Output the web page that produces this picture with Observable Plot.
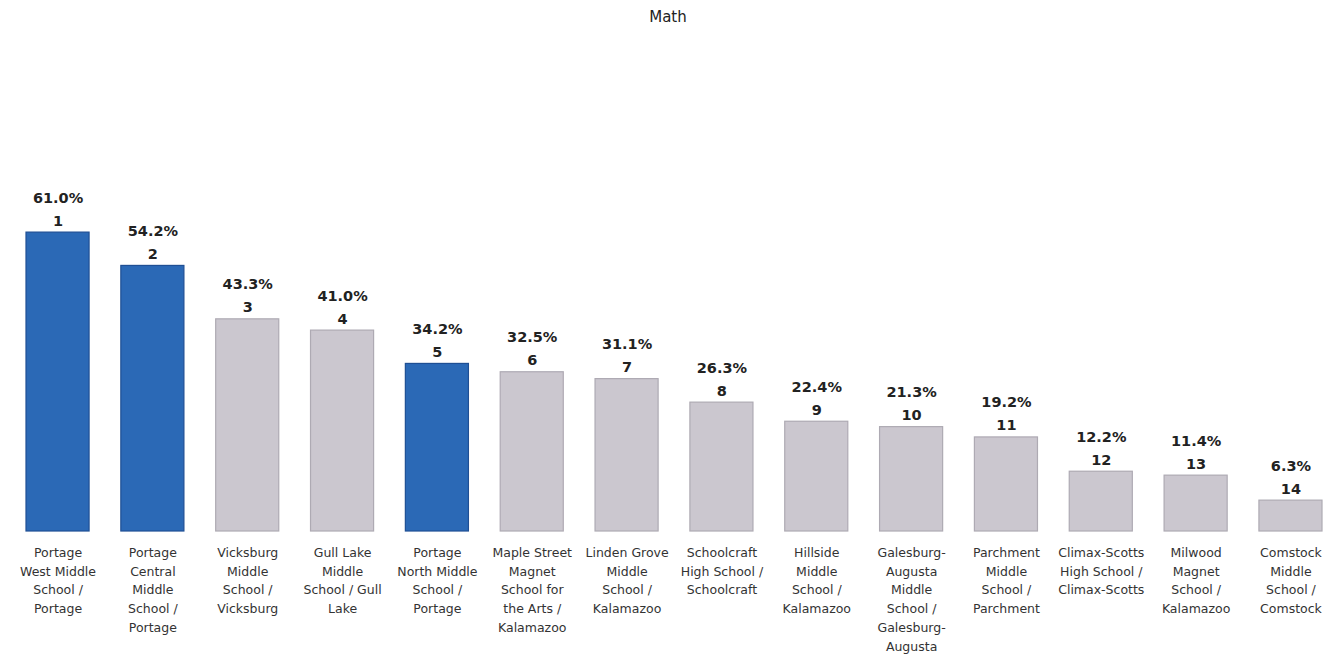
<!DOCTYPE html>
<html>
<head>
<meta charset="utf-8">
<script src="https://cdn.jsdelivr.net/npm/d3@7"></script>
<script src="https://cdn.jsdelivr.net/npm/@observablehq/plot@0.6"></script>
<style>
  html, body { margin: 0; padding: 0; background: #fff; }
  #title { height: 34px; line-height: 34px; text-align: center; font-family: "DejaVu Sans", sans-serif; font-size: 15px; color: #222; }
</style>
</head>
<body>
<div id="title">Math</div>
<div id="chart"></div>
<script>
const schools = [
  "Portage\nWest Middle\nSchool /\nPortage",
  "Portage\nCentral\nMiddle\nSchool /\nPortage",
  "Vicksburg\nMiddle\nSchool /\nVicksburg",
  "Gull Lake\nMiddle\nSchool / Gull\nLake",
  "Portage\nNorth Middle\nSchool /\nPortage",
  "Maple Street\nMagnet\nSchool for\nthe Arts /\nKalamazoo",
  "Linden Grove\nMiddle\nSchool /\nKalamazoo",
  "Schoolcraft\nHigh School /\nSchoolcraft",
  "Hillside\nMiddle\nSchool /\nKalamazoo",
  "Galesburg-\nAugusta\nMiddle\nSchool /\nGalesburg-\nAugusta",
  "Parchment\nMiddle\nSchool /\nParchment",
  "Climax-Scotts\nHigh School /\nClimax-Scotts",
  "Milwood\nMagnet\nSchool /\nKalamazoo",
  "Comstock\nMiddle\nSchool /\nComstock"
];
const values = [61.0, 54.2, 43.3, 41.0, 34.2, 32.5, 31.1, 26.3, 22.4, 21.3, 19.2, 12.2, 11.4, 6.3];
const ranks = [1,2,3,4,5,6,7,8,9,10,11,12,13,14];
const highlighted = [true, true, false, false, true, false, false, false, false, false, false, false, false, false];

const data = schools.map((s, i) => ({school: s, value: values[i], rank: ranks[i], hl: highlighted[i]}));

const chart = Plot.plot({
  width: 1336,
  height: 620,
  marginTop: 7,
  marginBottom: 123,
  marginLeft: 26,
  marginRight: 14,
  style: {fontFamily: "DejaVu Sans, sans-serif", background: "#fff"},
  x: {domain: schools, paddingInner: 0.335, paddingOuter: 0, round: false, label: null},
  y: {domain: [0, 100], axis: null},
  marks: [
    Plot.barY(data, {
      x: "school", y: "value",
      fill: d => d.hl ? "#2b69b6" : "#cbc7cf",
      stroke: d => d.hl ? "#1f4f94" : "#aeaab3",
      strokeWidth: 1.2
    }),
    Plot.text(data, {
      x: "school", y: "value",
      text: d => d.value.toFixed(1) + "%",
      lineAnchor: "bottom", dy: -30,
      fontWeight: "bold", fontSize: 14.5, fill: "#222"
    }),
    Plot.text(data, {
      x: "school", y: "value",
      text: d => String(d.rank),
      lineAnchor: "bottom", dy: -7,
      fontWeight: "bold", fontSize: 14.5, fill: "#222"
    }),
    Plot.axisX({
      tickSize: 0, tickPadding: 12, fontSize: 12.5, lineHeight: 1.5,
      fill: "#333", label: null
    })
  ]
});
document.getElementById("chart").appendChild(chart);
</script>
</body>
</html>
